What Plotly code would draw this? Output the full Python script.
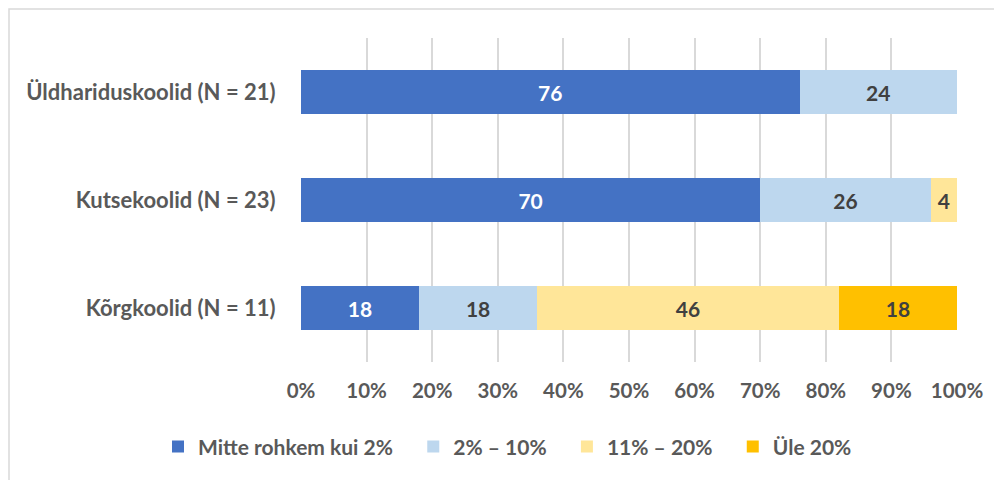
import plotly.graph_objects as go

# categories top to bottom
schools = ["Üldhariduskoolid (N = 21)", "Kutsekoolid (N = 23)", "Kõrgkoolid (N = 11)"]

series_names = ["Mitte rohkem kui 2%", "2% – 10%", "11% – 20%", "Üle 20%"]
low = [76, 70, 18]
mid = [24, 26, 18]
high = [None, 4, 46]
top = [None, None, 18]

colors = ["#4472C4", "#BDD7EE", "#FFE699", "#FFC000"]
label_colors = ["white", "#404040", "#404040", "#404040"]

FONT = "Lato, 'Open Sans', sans-serif"
GRAY = "#595959"
PAD = "\u00a0" * 3  # extra room between legend entries

fig = go.Figure()
for i, (name, vals, col, lc) in enumerate(zip(series_names, [low, mid, high, top], colors, label_colors)):
    fig.add_trace(go.Bar(
        name=name + (PAD if i < len(series_names) - 1 else ""),
        y=schools,
        x=vals,
        orientation="h",
        marker=dict(color=col, line=dict(width=0)),
        text=[str(v) if v else "" for v in vals],
        textposition="inside",
        insidetextanchor="middle",
        textangle=0,
        textfont=dict(family=FONT, size=21, color=lc, weight="bold"),
        hoverinfo="x+name",
    ))

fig.update_layout(
    barmode="stack",
    bargap=0.6,
    width=1002,
    height=480,
    margin=dict(l=293, r=53, t=30, b=126),
    paper_bgcolor="white",
    plot_bgcolor="white",
    font=dict(family=FONT, size=21, color=GRAY),
    uniformtext=dict(minsize=10, mode="show"),
    legend=dict(
        orientation="h",
        x=(150 - 293) / 656, xanchor="left",
        y=-0.262, yanchor="middle",
        traceorder="normal",
        font=dict(family=FONT, size=21, color=GRAY, weight="bold"),
        itemwidth=30,
    ),
    showlegend=True,
)

fig.update_xaxes(
    range=[0, 100],
    dtick=10,
    ticksuffix="%",
    showgrid=True,
    gridcolor="#D9D9D9",
    gridwidth=1.5,
    zeroline=False,
    showline=False,
    ticks="outside",
    ticklen=10,
    tickcolor="rgba(0,0,0,0)",
    tickfont=dict(family=FONT, size=20.5, color=GRAY, weight="bold"),
    fixedrange=True,
)
fig.update_yaxes(
    autorange="reversed",
    showgrid=False,
    showline=False,
    ticks="outside",
    ticklen=20,
    tickcolor="rgba(0,0,0,0)",
    tickfont=dict(family=FONT, size=22, color=GRAY, weight="bold"),
    fixedrange=True,
)

# outer chart frame
fig.add_shape(
    type="rect", xref="paper", yref="paper",
    x0=(1 - 293) / 656, x1=(1010 - 293) / 656,
    y0=(354 - 490) / 324, y1=(354 - 1) / 324,
    line=dict(color="#D9D9D9", width=1.5),
    fillcolor="rgba(0,0,0,0)",
    layer="below",
)

fig.write_html("out.html")
